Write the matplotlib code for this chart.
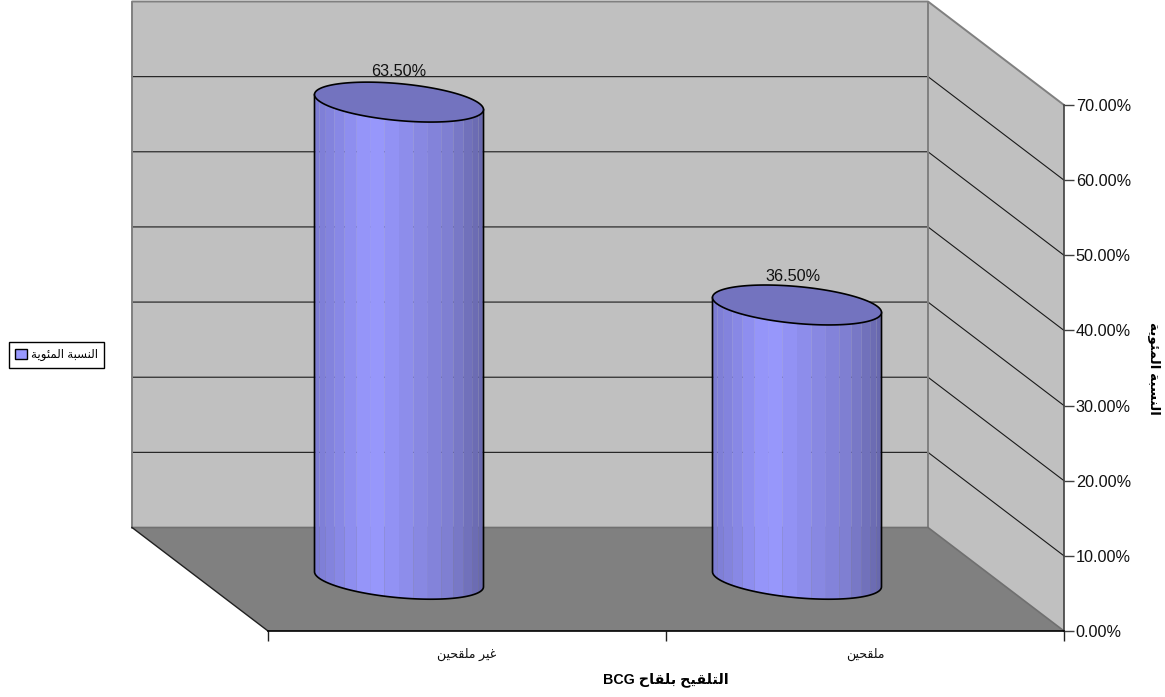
import re
import numpy as np
import matplotlib
matplotlib.use('Agg')
import matplotlib.pyplot as plt
from matplotlib.patches import Patch
from matplotlib.colors import to_rgb

plt.rcParams['font.family'] = ['Liberation Sans', 'DejaVu Sans']

# Donnees
categories = ['غير ملقحين', 'ملقحين']
values = [63.5, 36.5]
y_ticks = [0, 10, 20, 30, 40, 50, 60, 70]
y_tick_labels = ['0.00%', '10.00%', '20.00%', '30.00%', '40.00%', '50.00%', '60.00%', '70.00%']
legend_label = 'النسبة المئوية'
x_title = 'التلقيح بلقاح BCG'
y_title = 'النسبة المئوية'

# (isolated, final, initial, medial) - letters that do not join forward have two forms
FORMS = {
    'ا': (0xFE8D, 0xFE8E), 'ر': (0xFEAD, 0xFEAE), 'و': (0xFEED, 0xFEEE), 'ة': (0xFE93, 0xFE94),
    'ب': (0xFE8F, 0xFE90, 0xFE91, 0xFE92), 'ت': (0xFE95, 0xFE96, 0xFE97, 0xFE98),
    'ج': (0xFE9D, 0xFE9E, 0xFE9F, 0xFEA0), 'ح': (0xFEA1, 0xFEA2, 0xFEA3, 0xFEA4),
    'س': (0xFEB1, 0xFEB2, 0xFEB3, 0xFEB4), 'غ': (0xFECD, 0xFECE, 0xFECF, 0xFED0),
    'ق': (0xFED5, 0xFED6, 0xFED7, 0xFED8), 'ل': (0xFEDD, 0xFEDE, 0xFEDF, 0xFEE0),
    'م': (0xFEE1, 0xFEE2, 0xFEE3, 0xFEE4), 'ن': (0xFEE5, 0xFEE6, 0xFEE7, 0xFEE8),
    'ي': (0xFEF1, 0xFEF2, 0xFEF3, 0xFEF4), 'ئ': (0xFE89, 0xFE8A, 0xFE8B, 0xFE8C),
}


# matplotlib does no Arabic shaping, so pick the joined forms and reverse the order
def arabic(text):
    out = []
    for i, c in enumerate(text):
        if c not in FORMS:
            out.append(c)
            continue
        f = FORMS[c]
        prev = text[i - 1] if i > 0 else ' '
        nxt = text[i + 1] if i < len(text) - 1 else ' '
        join_prev = prev in FORMS and len(FORMS[prev]) == 4
        join_next = nxt in FORMS and len(f) == 4
        if join_prev and join_next:
            out.append(chr(f[3]))
        elif join_next:
            out.append(chr(f[2]))
        elif join_prev:
            out.append(chr(f[1]))
        else:
            out.append(chr(f[0]))
    visual = ''.join(out)[::-1]
    return re.sub(r'[A-Za-z]+', lambda m: m.group(0)[::-1], visual)


W, H = 1165, 697
fig = plt.figure(figsize=(W / 100, H / 100), dpi=100)
ax = fig.add_axes([268 / W, 1 - 631 / H, (1064 - 268) / W, (631 - 105) / H])
ax.set_xlim(0, 2)
ax.set_ylim(0, 70)
ax.patch.set_visible(False)

# Depth of the box, in data units
dx = -136 / 398
dy = 103.5 / (526 / 70)
wall = '#C0C0C0'
edge = '#808080'

# Walls and floor
ax.fill([dx, 2 + dx, 2 + dx, dx], [dy, dy, 70 + dy, 70 + dy], color=wall, lw=0, clip_on=False, zorder=1)
ax.fill([2, 2 + dx, 2 + dx, 2], [0, dy, 70 + dy, 70], color=wall, lw=0, clip_on=False, zorder=1)
ax.fill([0, 2, 2 + dx, dx], [0, 0, dy, dy], color='#808080', lw=0, clip_on=False, zorder=1)

# Grid lines on both walls
for v in y_ticks[1:-1]:
    ax.plot([dx, 2 + dx, 2], [v + dy, v + dy, v], color='#1A1A1A', lw=0.8, clip_on=False, zorder=2)

# Wall outlines
ax.plot([dx, dx, 2 + dx, 2], [dy, 70 + dy, 70 + dy, 70], color=edge, lw=1.4, clip_on=False, zorder=2)
ax.plot([2 + dx, 2 + dx], [dy, 70 + dy], color=edge, lw=1.4, clip_on=False, zorder=2)
ax.plot([dx, 2 + dx, 2], [dy, dy, 0], color='#707070', lw=1.2, clip_on=False, zorder=2)
ax.plot([dx, 0], [dy, 0], color='#202020', lw=1.0, clip_on=False, zorder=3)

# Cylinder shape: a tilted ellipse seen from above
a = 84.5 / 398
tilt = 7.5 / (526 / 70)
b = 18.5 / (526 / 70)
shade_u = [0.0, 0.33, 0.5, 0.8, 1.0]
shade_c = ['#7A7AD0', '#9999FF', '#9090F0', '#7E7ED0', '#6666AA']
shade_rgb = np.array([to_rgb(c) for c in shade_c])


def ellipse(cx, cy, t):
    return cx + a * np.cos(t), cy + tilt * -np.cos(t) - b * np.sin(t)


label_dx = [0, -3]
label_dy = [21.8, 20.4]
n_strips = 18
for i, v in enumerate(values):
    cx = i + 0.5 + dx / 2
    cy = dy / 2
    edges = np.linspace(np.pi, 0, n_strips + 1)
    for t0, t1 in zip(edges[:-1], edges[1:]):
        ts = np.linspace(t0, t1, 6)
        xb, yb = ellipse(cx, cy, ts)
        xt, yt = ellipse(cx, cy + v, ts)
        u = 0.5 + 0.25 * (np.cos(t0) + np.cos(t1))
        col = [np.interp(u, shade_u, shade_rgb[:, k]) for k in range(3)]
        ax.fill(np.r_[xb, xt[::-1]], np.r_[yb, yt[::-1]], color=col, lw=0, clip_on=False, zorder=4)

    # Outline and top cap
    ts = np.linspace(np.pi, 0, 80)
    xb, yb = ellipse(cx, cy, ts)
    ax.plot(np.r_[xb[0], xb, xb[-1]], np.r_[cy + v + tilt, yb, cy + v - tilt], color='black', lw=1.2,
            clip_on=False, zorder=5)
    ts = np.linspace(0, 2 * np.pi, 160)
    xt, yt = ellipse(cx, cy + v, ts)
    ax.fill(xt, yt, facecolor='#7373BF', edgecolor='black', lw=1.2, clip_on=False, zorder=6)

    ax.annotate('%.2f%%' % v, (cx, cy + v), xytext=(label_dx[i], label_dy[i]), textcoords='offset points',
                ha='center', va='center', fontsize=11.7, color='#111111', zorder=7, annotation_clip=False)

# Axes
for s in ['top', 'left']:
    ax.spines[s].set_visible(False)
ax.spines['right'].set_color('#404040')
ax.spines['right'].set_linewidth(1.2)
ax.spines['bottom'].set_color('black')
ax.spines['bottom'].set_linewidth(1.2)
for s in ax.spines.values():
    s.set_zorder(8)

ax.yaxis.tick_right()
ax.set_yticks(y_ticks)
ax.set_yticklabels(y_tick_labels, fontsize=11.7, color='#111111')
ax.tick_params(axis='y', length=7, width=1, color='#404040', pad=1.5)
ax.set_xticks([0, 1, 2])
ax.set_xticklabels([])
ax.set_xticks([0.5, 1.5], minor=True)
ax.set_xticklabels([arabic(c) for c in categories], minor=True, fontsize=9, color='#111111')
ax.tick_params(axis='x', which='major', length=7, width=1, color='#202020')
ax.tick_params(axis='x', which='minor', length=0, pad=12)

ax.set_xlabel(arabic(x_title), fontsize=10.3, fontweight='bold', labelpad=8.5)
ax.yaxis.set_label_position('right')
ax.set_ylabel(arabic(y_title), fontsize=9.7, fontweight='bold', rotation=-90, labelpad=21)

handle = Patch(facecolor='#9999FF', edgecolor='black', lw=1)
leg = fig.legend([handle], [arabic(legend_label)], loc='center', bbox_to_anchor=(56.5 / W, 1 - 355 / H),
                 fontsize=8.5, fancybox=False, framealpha=1, edgecolor='black', borderpad=0.55,
                 handlelength=1.0, handleheight=1.0, handletextpad=0.35, borderaxespad=0)
leg.get_frame().set_linewidth(1)

fig.savefig('out.png', dpi=100)
